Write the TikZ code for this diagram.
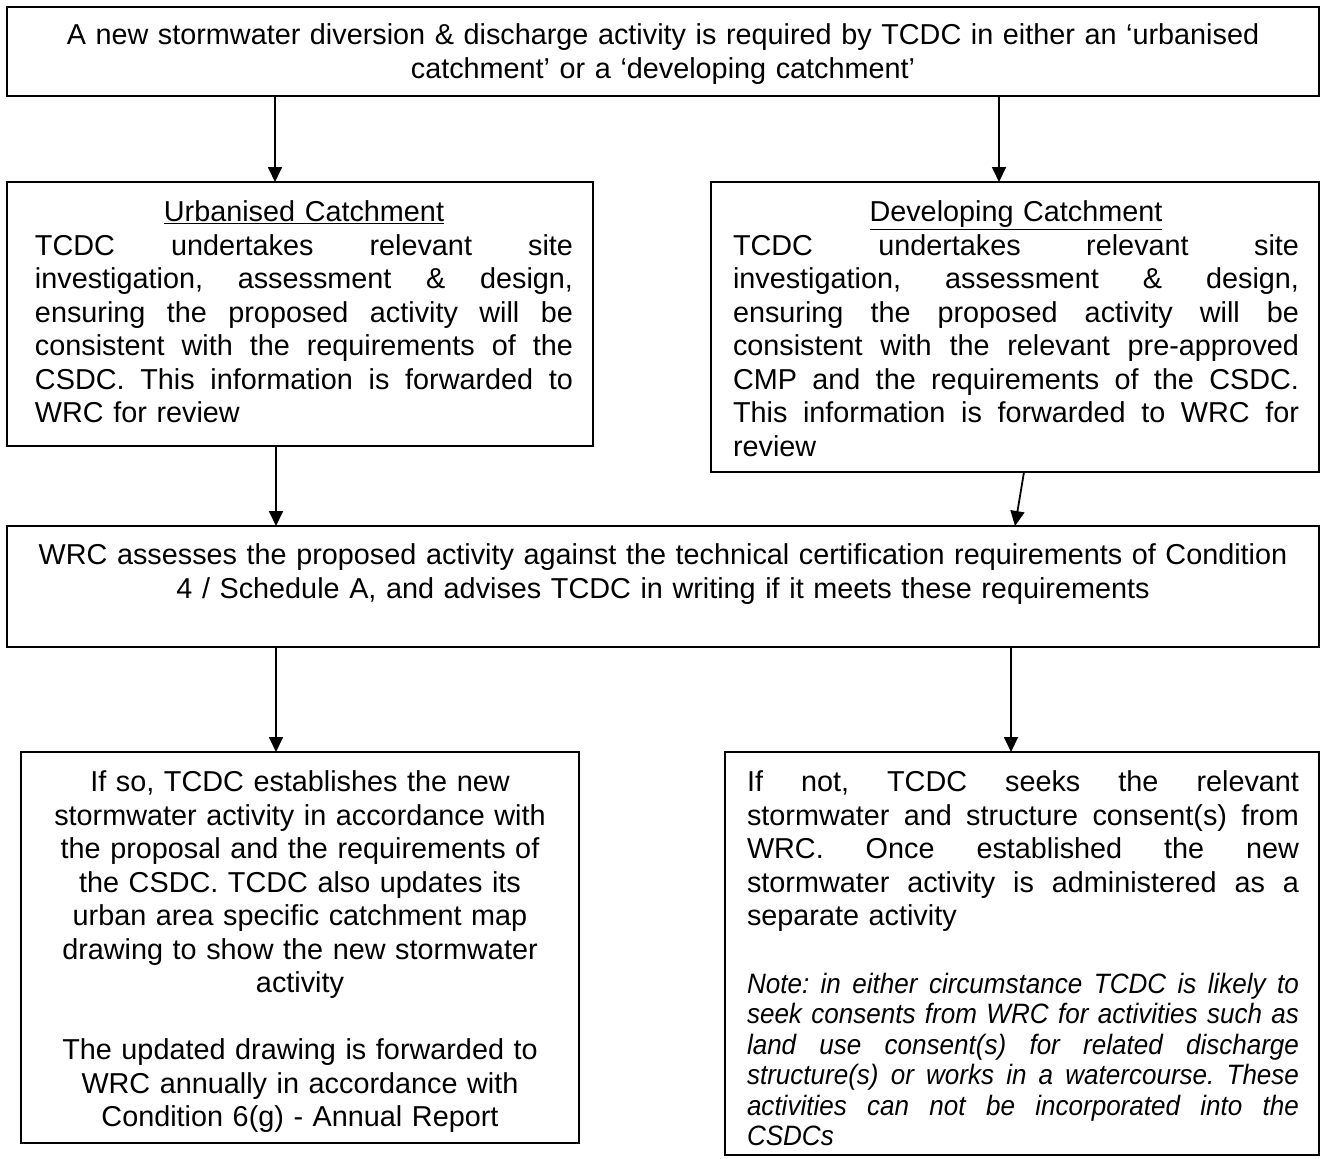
\documentclass[tikz,border=0pt]{standalone}
\usepackage{fontspec}
\setmainfont{Liberation Sans}
\newfontfamily\notefont{Liberation Sans}[FakeStretch=0.93]
\usetikzlibrary{arrows.meta}
\newcommand\jline[1]{\leavevmode\hbox to\linewidth{\spaceskip=0.278em plus 1fil minus 0.05em\relax #1}}
\newcommand\cenline[1]{\makebox[\linewidth][c]{#1}}
\begin{document}
\begin{tikzpicture}[x=1bp,y=-1bp,
  box/.style={draw, line width=1.8bp, inner sep=0pt, outer sep=0pt, anchor=north west},
  txt/.style={inner sep=0pt, outer sep=0pt, anchor=north, font=\fontsize{28.8bp}{33.5bp}\selectfont\frenchspacing},
  notetxt/.style={txt, font=\notefont\fontsize{28bp}{30.5bp}\selectfont\itshape\frenchspacing},
  arr/.style={line width=1.8bp, -{Triangle[width=14bp,length=15bp]}}]
\useasboundingbox[fill=white] (0,0) rectangle (1326,1158);

% boxes
\node[box, minimum width=1312bp, minimum height=89bp] (top) at (7,7) {};
\node[box, minimum width=586bp, minimum height=264bp] (urb) at (7,182) {};
\node[box, minimum width=608bp, minimum height=290bp] (dev) at (711,182) {};
\node[box, minimum width=1312bp, minimum height=121bp] (wrc) at (7,526) {};
\node[box, minimum width=558bp, minimum height=391bp] (lft) at (21,752) {};
\node[box, minimum width=594bp, minimum height=403bp] (rgt) at (725,752) {};

% texts
\node[txt, text width=1290bp, align=center] (toptxt) at (663,21.5)
  {\strut A new stormwater diversion \& discharge activity is required by TCDC in either an ‘urbanised\\catchment’ or a ‘developing catchment’};

\node[txt, text width=538bp, align=left] (urbtxt) at (304,198.5)
  {\cenline{\strut\underline{Urbanised Catchment}}\\
   \jline{TCDC undertakes relevant site}\\
   \jline{investigation, assessment \& design,}\\
   \jline{ensuring the proposed activity will be}\\
   \jline{consistent with the requirements of the}\\
   \jline{CSDC. This information is forwarded to}\\
   WRC for review};

\node[txt, text width=566bp, align=left] (devtxt) at (1016,198.5)
  {\cenline{\strut\underline{Developing Catchment}}\\
   \jline{TCDC undertakes relevant site}\\
   \jline{investigation, assessment \& design,}\\
   \jline{ensuring the proposed activity will be}\\
   \jline{consistent with the relevant pre-approved}\\
   \jline{CMP and the requirements of the CSDC.}\\
   \jline{This information is forwarded to WRC for}\\
   review};

\node[txt, text width=1290bp, align=center] (wrctxt) at (663,541.5)
  {\strut WRC assesses the proposed activity against the technical certification requirements of Condition\\4 / Schedule A, and advises TCDC in writing if it meets these requirements};

\node[txt, text width=540bp, align=center] (lfttxt) at (300,768.5)
  {\strut If so, TCDC establishes the new\\
   stormwater activity in accordance with\\
   the proposal and the requirements of\\
   the CSDC. TCDC also updates its\\
   urban area specific catchment map\\
   drawing to show the new stormwater\\
   activity\\[33.5bp]
   The updated drawing is forwarded to\\
   WRC annually in accordance with\\
   Condition 6(g) - Annual Report};

\node[txt, text width=552bp, align=left] (rgttxt) at (1023,768.5)
  {\jline{\strut If not, TCDC seeks the relevant}\\
   \jline{stormwater and structure consent(s) from}\\
   \jline{WRC. Once established the new}\\
   \jline{stormwater activity is administered as a}\\
   separate activity};

\node[notetxt, text width=552bp, align=left] (notetext) at (1023,971.7)
  {\jline{\strut Note: in either circumstance TCDC is likely to}\\
   \jline{seek consents from WRC for activities such as}\\
   \jline{land use consent(s) for related discharge}\\
   \jline{structure(s) or works in a watercourse. These}\\
   \jline{activities can not be incorporated into the}\\
   CSDCs};

% connector x positions
\coordinate (a1) at (275,0);
\coordinate (a2) at (999,0);
\coordinate (a3) at (276,0);
\coordinate (a4s) at (1024,0);
\coordinate (a4e) at (1015,0);
\coordinate (a5) at (276,0);
\coordinate (a6) at (1011,0);

\draw[arr] (top.south -| a1) -- (urb.north -| a1);
\draw[arr] (top.south -| a2) -- (dev.north -| a2);
\draw[arr] (urb.south -| a3) -- (wrc.north -| a3);
\draw[arr] (dev.south -| a4s) -- (wrc.north -| a4e);
\draw[arr] (wrc.south -| a5) -- (lft.north -| a5);
\draw[arr] (wrc.south -| a6) -- (rgt.north -| a6);
\end{tikzpicture}
\end{document}
